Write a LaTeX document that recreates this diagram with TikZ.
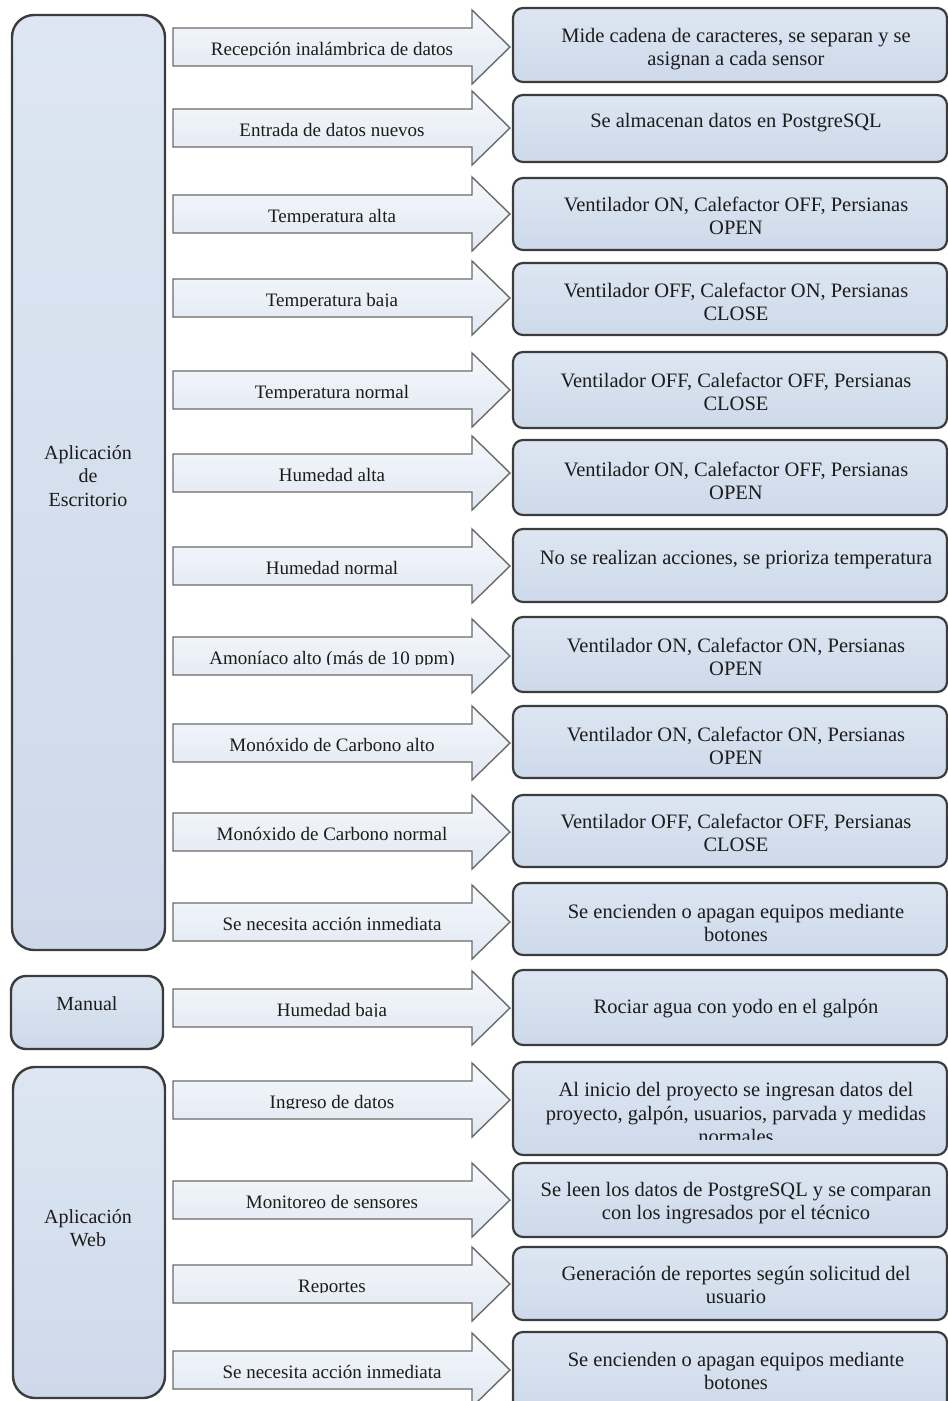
\documentclass[tikz,border=0pt]{standalone}
\usepackage{fontspec}
\setmainfont{Liberation Serif}
\definecolor{boxtop}{HTML}{DDE6F2}
\definecolor{boxbot}{HTML}{CDD9EA}
\definecolor{edge}{HTML}{3C3C3C}
\definecolor{arredge}{HTML}{6A6A6A}
\definecolor{arrtop}{HTML}{F6F8FC}
\definecolor{arrbot}{HTML}{E1E8F2}
\definecolor{txt}{HTML}{1C1C1C}
\tikzset{
  rbox/.style={draw=edge, line width=2.2pt, rounded corners=10pt, top color=boxtop, bottom color=boxbot},
  lbox/.style={draw=edge, line width=2.4pt, rounded corners=22pt, top color=boxtop, bottom color=boxbot},
  barrow/.style={draw=arredge, line width=1.4pt, top color=arrtop, bottom color=arrbot, line join=miter},
  rtext/.style={font=\fontsize{20.5}{23.5}\selectfont, align=center, text=txt, inner sep=0pt},
  atext/.style={font=\fontsize{19}{22}\selectfont, text=txt, inner sep=0pt},
  ltext/.style={font=\fontsize{20}{23.5}\selectfont, align=center, text=txt, inner sep=0pt},
}
% #1 index, #2 arrow centre y, #3 arrow label, #4 box top, #5 box bottom, #6 text centre y, #7 text
\newcommand{\flowrow}[7]{%
  \draw[rbox] (513,#4) rectangle (947,#5);
  \node[rtext] (r#1) at (736,#6) {#7};
  \draw[barrow] (173,#2-19) -- (472,#2-19) -- (472,#2-37) -- (510,#2) -- (472,#2+37) -- (472,#2+19) -- (173,#2+19) -- cycle;
  \begin{scope}
    \clip (174,#2-18) rectangle (471,#2+8.4);
    \node[atext, anchor=base] (a#1) at (332,#2+8) {#3};
  \end{scope}
}
\begin{document}
\begin{tikzpicture}[x=1pt,y=-1pt]
\useasboundingbox (0,0) rectangle (948,1401);
\fill[white] (0,0) rectangle (948,1401);

% left boxes
\draw[lbox] (12,15) rectangle (165,950);
\node[ltext] (esc) at (88,476) {Aplicación\\de\\Escritorio};
\draw[lbox, rounded corners=15pt] (11,976) rectangle (163,1049);
\node[ltext] (man) at (87,1004) {Manual};
\draw[lbox] (13,1067) rectangle (165,1398);
\node[ltext] (web) at (88,1228) {Aplicación\\Web};

\flowrow{1}{47}{Recepción inalámbrica de datos}{8}{82}{49}{Mide cadena de caracteres, se separan y se\\asignan a cada sensor}
\flowrow{2}{128}{Entrada de datos nuevos}{95}{162}{123}{Se almacenan datos en PostgreSQL}
\flowrow{3}{214}{Temperatura alta}{178}{250}{216}{Ventilador ON, Calefactor OFF, Persianas\\OPEN}
\flowrow{4}{298}{Temperatura baja}{263}{335}{302}{Ventilador OFF, Calefactor ON, Persianas\\CLOSE}
\flowrow{5}{390}{Temperatura normal}{352}{428}{392}{Ventilador OFF, Calefactor OFF, Persianas\\CLOSE}
\flowrow{6}{473}{Humedad alta}{440}{515}{481}{Ventilador ON, Calefactor OFF, Persianas\\OPEN}
\flowrow{7}{566}{Humedad normal}{529}{602}{560}{No se realizan acciones, se prioriza temperatura}
\flowrow{8}{656}{Amoníaco alto (más de 10 ppm)}{617}{692}{657}{Ventilador ON, Calefactor ON, Persianas\\OPEN}
\flowrow{9}{743}{Monóxido de Carbono alto}{706}{778}{746}{Ventilador ON, Calefactor ON, Persianas\\OPEN}
\flowrow{10}{832}{Monóxido de Carbono normal}{795}{867}{833}{Ventilador OFF, Calefactor OFF, Persianas\\CLOSE}
\flowrow{11}{922}{Se necesita acción inmediata}{883}{955}{923}{Se encienden o apagan equipos mediante\\botones}
\flowrow{12}{1008}{Humedad baja}{970}{1045}{1009}{Rociar agua con yodo en el galpón}

% row 13 (third line of text cut by the box)
\draw[rbox] (513,1062) rectangle (947,1155);
\begin{scope}
  \clip (515,1064) rectangle (945,1139);
  \node[rtext] (r13) at (736,1113) {Al inicio del proyecto se ingresan datos del\\proyecto, galpón, usuarios, parvada y medidas\\normales};
\end{scope}
\draw[barrow] (173,1100-19) -- (472,1100-19) -- (472,1100-37) -- (510,1100) -- (472,1100+37) -- (472,1100+19) -- (173,1100+19) -- cycle;
\begin{scope}
  \clip (174,1100-18) rectangle (471,1100+8.4);
  \node[atext, anchor=base] (a13) at (332,1100+8) {Ingreso de datos};
\end{scope}

\flowrow{14}{1200}{Monitoreo de sensores}{1163}{1237}{1203}{Se leen los datos de PostgreSQL y se comparan\\con los ingresados por el técnico}
\flowrow{15}{1284}{Reportes}{1247}{1320}{1285}{Generación de reportes según solicitud del\\usuario}
\flowrow{16}{1370}{Se necesita acción inmediata}{1332}{1412}{1371}{Se encienden o apagan equipos mediante\\botones}
\end{tikzpicture}
\end{document}
